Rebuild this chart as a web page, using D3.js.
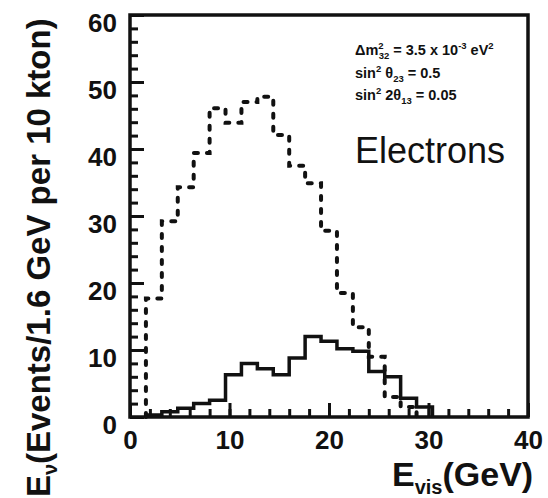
<!DOCTYPE html>
<html><head><meta charset="utf-8">
<script src="https://cdn.jsdelivr.net/npm/d3@7"></script>
<style>
html,body{margin:0;padding:0;background:#fff;}
svg{display:block;}
text{font-family:"Liberation Sans",Arial,Helvetica,sans-serif;fill:#111;}
</style></head>
<body>
<script>
// ---- data ----
const binWidth = 1.6;               // GeV
const binStarts = d3.range(0, 40, binWidth);   // 25 bins: 0,1.6,...,38.4
const dashedCounts = [0, 17.7, 29.2, 34.3, 39.4, 46.1, 43.9, 47.0, 47.8, 42.1, 37.5, 34.9, 27.8, 18.5, 13.4, 9.0, 3.0, 1.5, 0, 0, 0, 0, 0, 0, 0];
const solidCounts  = [0, 0.3, 0.8, 1.3, 2.0, 2.5, 6.3, 8.0, 7.2, 6.3, 8.8, 12.0, 11.3, 10.2, 9.8, 6.8, 6.0, 2.8, 1.5, 0, 0, 0, 0, 0, 0];
const xMajorTicks = [0, 10, 20, 30, 40];
const yMajorTicks = [0, 10, 20, 30, 40, 50, 60];
const xMinorTicks = d3.range(0, 41, 2);
const yMinorTicks = d3.range(0, 61, 2);
const labelText = "Electrons";

// ---- layout ----
const W = 548, H = 498;
const L = 130, R = 528, T = 15, B = 417;
const svg = d3.select("body").append("svg").attr("width", W).attr("height", H);

const x = d3.scaleLinear().domain([0, 40]).range([L, R]);
const y = d3.scaleLinear().domain([0, 60]).range([B, T]);

// histogram outline builder
function stepPoints(counts) {
  let first = counts.findIndex(v => v > 0);
  let last = counts.length - 1 - [...counts].reverse().findIndex(v => v > 0);
  const pts = [[binStarts[first], 0]];
  for (let i = first; i <= last; i++) pts.push([binStarts[i], counts[i]]);
  pts.push([binStarts[last] + binWidth, counts[last]]);
  pts.push([binStarts[last] + binWidth, 0]);
  return pts;
}
const line = d3.line().x(d => x(d[0])).y(d => y(d[1])).curve(d3.curveStepAfter);

// dashed histogram
svg.append("path").attr("d", line(stepPoints(dashedCounts)))
  .attr("fill", "none").attr("stroke", "#111").attr("stroke-width", 4)
  .attr("stroke-dasharray", "4,9").attr("stroke-linecap", "round");
// solid histogram
svg.append("path").attr("d", line(stepPoints(solidCounts)))
  .attr("fill", "none").attr("stroke", "#111").attr("stroke-width", 3.5)
  .attr("stroke-linejoin", "miter");

// axes ticks (inward)
function styleAxis(g) {
  g.select(".domain").remove();
  g.selectAll("line").attr("stroke", "#111").attr("stroke-width", 3);
}
svg.append("g").attr("transform", `translate(${L},0)`)
  .call(d3.axisLeft(y).tickValues(yMinorTicks).tickSize(-8).tickFormat(""))
  .call(styleAxis);
svg.append("g").attr("transform", `translate(0,${B})`)
  .call(d3.axisBottom(x).tickValues(xMinorTicks).tickSize(-8).tickFormat(""))
  .call(styleAxis);
const ya = svg.append("g").attr("transform", `translate(${L},0)`)
  .call(d3.axisLeft(y).tickValues(yMajorTicks).tickSize(-14).tickPadding(13).tickFormat(d3.format("d")))
  .call(styleAxis);
ya.selectAll("text").attr("font-size", 26).attr("font-weight", "bold")
  .attr("font-family", "Liberation Sans, Arial, sans-serif").attr("fill", "#111")
  .attr("dy", "0.62em");
const xa = svg.append("g").attr("transform", `translate(0,${B})`)
  .call(d3.axisBottom(x).tickValues(xMajorTicks).tickSize(-14).tickPadding(14).tickFormat(d3.format("d")))
  .call(styleAxis);
xa.selectAll("text").attr("font-size", 26).attr("font-weight", "bold")
  .attr("font-family", "Liberation Sans, Arial, sans-serif").attr("fill", "#111");

// frame
svg.append("rect").attr("x", L).attr("y", T).attr("width", R - L).attr("height", B - T)
  .attr("fill", "none").attr("stroke", "#111").attr("stroke-width", 3.5);

// y title
const yt1 = svg.append("text").attr("transform", "translate(50,497) rotate(-90)")
  .attr("font-size", 33).attr("font-weight", "bold");
yt1.append("tspan").text("E");
yt1.append("tspan").attr("font-size", 20).attr("dy", 7).text("ν");
svg.append("text").attr("transform", "translate(50,464) rotate(-90)")
  .attr("font-size", 33).attr("font-weight", "bold")
  .text("(Events/1.6 GeV per 10 kton)");

// x title
const xt = svg.append("text").attr("x", 392).attr("y", 486)
  .attr("font-size", 34).attr("font-weight", "bold");
xt.append("tspan").text("E");
xt.append("tspan").attr("font-size", 20).attr("dy", 8).text("vis");
xt.append("tspan").attr("dy", -8).text("(GeV)");

// annotation
const ann = svg.append("g").attr("font-weight", "bold").attr("font-size", 14.5);
const a1 = ann.append("text").attr("x", 355).attr("y", 55);
a1.append("tspan").text("Δm");
a1.append("tspan").attr("font-size", 9.5).attr("dy", -6).text("2");
a1.append("tspan").attr("font-size", 9.5).attr("dx", -5).attr("dy", 10).text("32");
a1.append("tspan").attr("dy", -4).text(" = 3.5 x 10");
a1.append("tspan").attr("font-size", 9.5).attr("dy", -6).text("-3");
a1.append("tspan").attr("dy", 6).text(" eV");
a1.append("tspan").attr("font-size", 9.5).attr("dy", -6).text("2");
const a2 = ann.append("text").attr("x", 355).attr("y", 78);
a2.append("tspan").text("sin");
a2.append("tspan").attr("font-size", 9.5).attr("dy", -6).text("2");
a2.append("tspan").attr("dy", 6).text(" θ");
a2.append("tspan").attr("font-size", 9.5).attr("dy", 4).text("23");
a2.append("tspan").attr("dy", -4).text(" = 0.5");
const a3 = ann.append("text").attr("x", 355).attr("y", 100);
a3.append("tspan").text("sin");
a3.append("tspan").attr("font-size", 9.5).attr("dy", -6).text("2");
a3.append("tspan").attr("dy", 6).text(" 2θ");
a3.append("tspan").attr("font-size", 9.5).attr("dy", 4).text("13");
a3.append("tspan").attr("dy", -4).text(" = 0.05");

svg.append("text").attr("x", 355).attr("y", 163).attr("font-size", 36).text(labelText);
</script>
</body></html>
